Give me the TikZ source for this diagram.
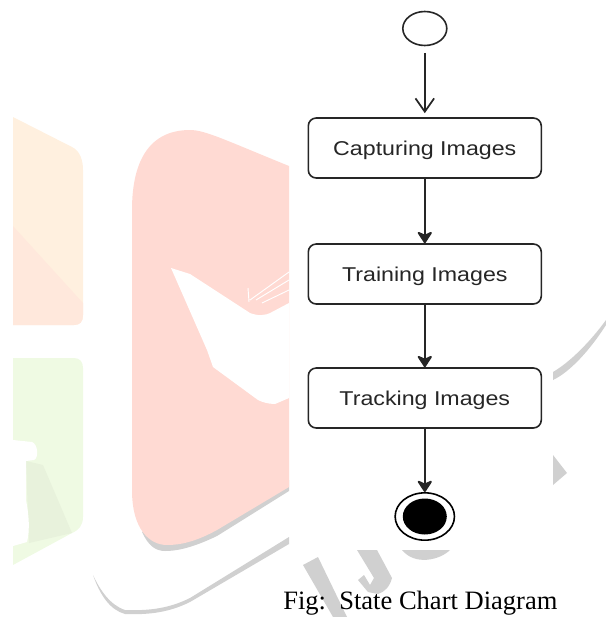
\documentclass[tikz,border=0pt]{standalone}
\usepackage{fontspec}
\usetikzlibrary{arrows.meta,shapes.geometric}
\newfontfamily\labfont[FakeStretch=1.16]{Liberation Sans}
\newfontfamily\capfont{Liberation Serif}
\newcommand\boxlabel[1]{\raisebox{-5.7pt}[0pt][0pt]{#1}}
\definecolor{wmgrey}{HTML}{D0D0D0}
\definecolor{wmred}{HTML}{FFDAD3}
\definecolor{wmorange}{HTML}{FFF0DF}
\definecolor{wmorangeb}{HTML}{FFE8DC}
\definecolor{wmgreen}{HTML}{EFFAE3}
\definecolor{wmgreenb}{HTML}{E8F2DC}
\tikzset{
  statebox/.style={draw=black!85,line width=1.2pt,rounded corners=6pt,fill=white,minimum width=174.75pt,minimum height=45pt,inner sep=0pt,font=\labfont\fontsize{15}{18}\selectfont,text=black!85},
  startstate/.style={draw=black!85,line width=1.2pt,ellipse,fill=white,minimum width=33pt,minimum height=25.5pt,inner sep=0pt},
  endouter/.style={draw=black,line width=1.2pt,ellipse,fill=white,minimum width=44.5pt,minimum height=35.5pt,inner sep=0pt},
  endinner/.style={fill=black,ellipse,minimum width=33pt,minimum height=27pt,inner sep=0pt},
  flow/.style={draw=black!85,line width=1.45pt,-{Stealth[length=10pt,width=13pt,inset=3pt,round]}},
  openflow/.style={draw=black!85,line width=1.3pt,-{Straight Barb[length=10pt,width=14pt,line width=1.3pt]}}
}
\begin{document}
\begin{tikzpicture}[x=0.75pt,y=-0.75pt]
\useasboundingbox (0,0) rectangle (606,617);
% watermark, left fragments
\fill[wmorange] (13,117) -- (72,147) .. controls (80,151) and (83,160) .. (83,170) -- (83,315) .. controls (83,322) and (80,325) .. (74,325) -- (13,325) -- cycle;
\fill[wmorangeb] (13,226) -- (83,303) -- (83,315) .. controls (83,322) and (80,325) .. (74,325) -- (13,325) -- cycle;
\fill[wmgreen] (13,358) -- (74,358) .. controls (80,358) and (83,362) .. (83,368) -- (83,517) .. controls (83,525) and (79,530) .. (72,533) -- (13,565) -- cycle;
\fill[wmgreenb] (26,461) -- (43,465) -- (72,533) -- (29,543) -- cycle;
\fill[white] (13,440) -- (32,442) .. controls (38,444) and (39,458) .. (34,460) -- (26,461) -- (26,500) .. controls (29,515) and (30,530) .. (27,542) -- (13,546) -- cycle;
% watermark, red mark and shadows
\fill[wmgrey] (289,491) -- (217,536) .. controls (190,549) and (175,551) .. (165,551) .. controls (155,551) and (148,545) .. (142,532) -- (200,500) -- (289,480) -- cycle;
\fill[wmred] (132,210) .. controls (132,160) and (150,130) .. (190,130) .. controls (205,130) and (225,140) .. (289,166) -- (289,487) -- (217,530) .. controls (195,542) and (180,545) .. (167,545) .. controls (150,545) and (132,530) .. (132,490) -- cycle;
\fill[white] (171,268) -- (190,274) -- (250,313) .. controls (258,316) and (265,316) .. (272,312) -- (289,303) -- (289,398) -- (275,404) .. controls (268,404) and (262,402) .. (258,400) -- (213,367) -- (207,350) -- cycle;
\draw[white,line width=.7pt] (249,302) -- (248,288) (250,300) -- (289,272) (256,300) -- (289,280) (262,303) -- (289,290);
\fill[wmgrey] (289,537) -- (289,544) -- (190,602) .. controls (170,612) and (150,615) .. (125,614) .. controls (110,610) and (100,595) .. (93,575) .. controls (100,590) and (110,605) .. (125,610) .. controls (150,611) and (170,608) .. (190,598) -- cycle;
% watermark, right fragments
\fill[wmgrey] (606,320) -- (606,325) .. controls (590,350) and (570,372) .. (553,380) -- (553,372) .. controls (570,362) and (590,342) .. (606,320) -- cycle;
\fill[wmgrey] (553,455) -- (567,473) -- (553,485) -- cycle;
\fill[wmgrey] (303,565) -- (318,557) -- (347,617) -- (333,617) -- cycle;
\fill[wmgrey] (357,550) -- (377,550) -- (392,578) .. controls (390,586) and (385,592) .. (378,594) -- (368,592) -- (358,580) -- (364,575) -- (370,585) -- (374,578) -- cycle;
\fill[wmgrey] (402,550) -- (450,550) .. controls (440,560) and (415,566) .. (402,550) -- cycle;
% diagram
\node[startstate] (start) at (424.8,28.5) {};
\node[statebox] (cap) at (424.8,148) {\boxlabel{Capturing Images}};
\node[statebox] (train) at (424.8,274) {\boxlabel{Training Images}};
\node[statebox] (track) at (424.8,398) {\boxlabel{Tracking Images}};
\node[endouter] (end) at (424.8,516.5) {};
\node[endinner] (endcore) at (424.8,516.5) {};
\draw[openflow,shorten <=5pt,shorten >=3pt] (start) -- (cap);
\draw[flow] (cap) -- (train);
\draw[flow] (train) -- (track);
\draw[flow] (track) -- (end);
\node[anchor=base west,inner sep=0pt,font=\capfont\fontsize{19.9}{24}\selectfont] (caption) at (283,609) {Fig:\ \ State Chart Diagram};
\end{tikzpicture}
\end{document}
